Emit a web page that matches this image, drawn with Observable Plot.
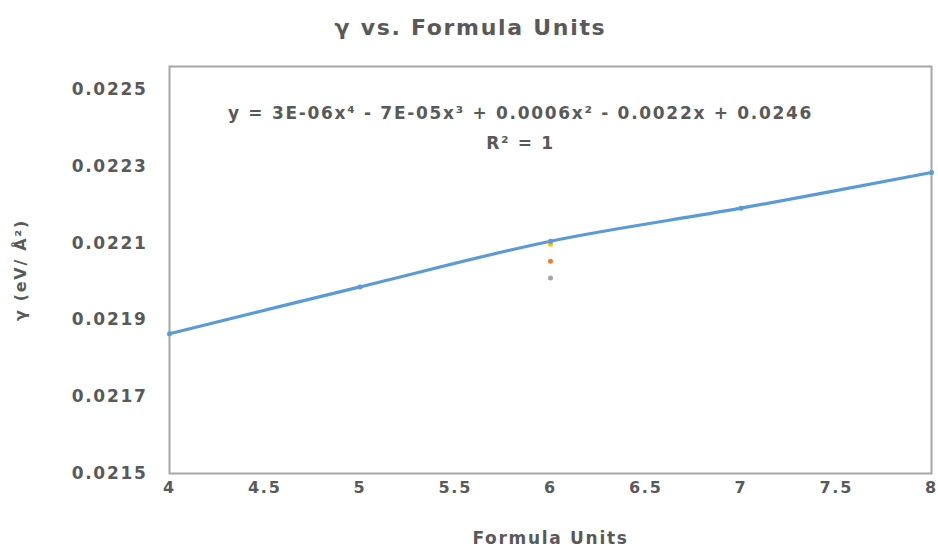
<!DOCTYPE html>
<html><head><meta charset="utf-8">
<script src="https://cdn.jsdelivr.net/npm/d3@7"></script>
<script src="https://cdn.jsdelivr.net/npm/@observablehq/plot@0.6"></script>
<style>
body{margin:0;background:#fff;}
svg{font-family:"DejaVu Sans",Arial,sans-serif;}
svg text{letter-spacing:1.7px;}
</style>
</head><body><div id="chart"></div>
<script>
const formulaUnits = [4, 5, 6, 7, 8];
const gamma = [0.021864, 0.021986, 0.022105, 0.022191, 0.022284];
const extraX = [6, 6, 6];
const extraY = [0.022097, 0.022053, 0.022009];
const extraColors = ["#ffc000", "#ed7d31", "#a5a5a5"];
const xTicks = [4, 4.5, 5, 5.5, 6, 6.5, 7, 7.5, 8];
const yTicks = [0.0215, 0.0217, 0.0219, 0.0221, 0.0223, 0.0225];
const title = "γ vs. Formula Units";
const equation = "y = 3E-06x⁴ - 7E-05x³ + 0.0006x² - 0.0022x + 0.0246";
const r2 = "R² = 1";
const xLabel = "Formula Units";
const yLabel = "γ (eV/ Å²)";

const main = formulaUnits.map((x, i) => ({x, y: gamma[i]}));
const extra = extraX.map((x, i) => ({x, y: extraY[i], c: extraColors[i]}));
const gray = "#595959";
const font = "'DejaVu Sans', Arial, sans-serif";

const chart = Plot.plot({
  width: 938, height: 550,
  marginLeft: 169, marginRight: 7, marginTop: 66, marginBottom: 77,
  style: {fontFamily: font, fontWeight: "bold", color: gray},
  x: {domain: [4, 8], ticks: xTicks, tickSize: 0, tickPadding: 8, label: null},
  y: {domain: [0.0215, 0.02256], ticks: yTicks, tickSize: 0, tickPadding: 22, tickFormat: d3.format(".4f"), label: null},
  marks: [
    Plot.axisX({ticks: xTicks, tickSize: 0, tickPadding: 8, fontSize: 16, fontWeight: "bold", fill: gray, label: null, tickFormat: d => String(d)}),
    Plot.axisY({ticks: yTicks, tickSize: 0, tickPadding: 22, fontSize: 17, fontWeight: "bold", fill: gray, label: null, tickFormat: d3.format(".4f")}),
    Plot.frame({stroke: "#a6a6a6", strokeWidth: 2}),
    Plot.line(main, {x: "x", y: "y", curve: "catmull-rom", stroke: "#5b9bd5", strokeWidth: 3.2}),
    Plot.dot(extra, {x: "x", y: "y", fill: "c", r: 2.5}),
    Plot.dot(main, {x: "x", y: "y", fill: "#5b9bd5", r: 2.5}),
    Plot.text([equation], {frameAnchor: "top", dx: -30, dy: 40, fontSize: 17, fontWeight: "bold", fill: gray}),
    Plot.text([r2], {frameAnchor: "top", dx: -30, dy: 70, fontSize: 17, fontWeight: "bold", fill: gray}),
    Plot.text([title], {frameAnchor: "top", dx: -80, dy: -47, fontSize: 22, fontWeight: "bold", fill: gray}),
    Plot.text([xLabel], {frameAnchor: "bottom", dx: 0, dy: 70, fontSize: 17, fontWeight: "bold", fill: gray}),
    Plot.text([yLabel], {frameAnchor: "left", textAnchor: "middle", dx: -149, dy: 0, rotate: -90, fontSize: 16, fontWeight: "bold", fill: gray})
  ]
});
document.getElementById("chart").appendChild(chart);
</script>
</body></html>
